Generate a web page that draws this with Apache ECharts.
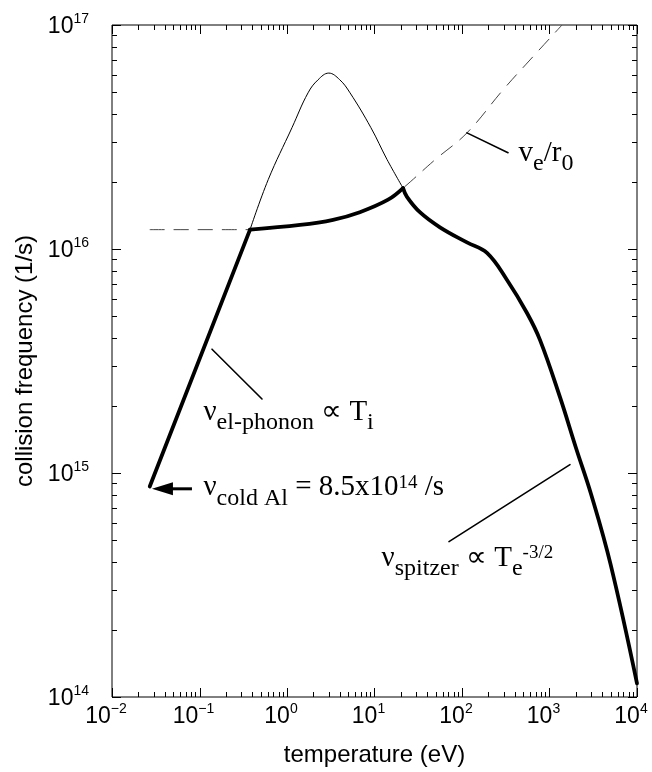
<!DOCTYPE html>
<html><head><meta charset="utf-8">
<script src="https://cdn.jsdelivr.net/npm/echarts@6/dist/echarts.min.js"></script>
<style>html,body{margin:0;padding:0;background:#fff}#c{width:652px;height:772px}</style>
</head><body><div id="c"></div>
<script>
// ---- axis ticks ----
const X_MIN = 0.01, X_MAX = 10000, Y_MIN = 1e14, Y_MAX = 1e17;
const xMajor = [0.01, 0.1, 1, 10, 100, 1000, 10000];
const yMajor = [1e14, 1e15, 1e16, 1e17];
const xMinor = []; for (let e = -2; e < 4; e++) for (let k = 2; k <= 9; k++) xMinor.push(k * Math.pow(10, e));
const yMinor = []; for (let e = 14; e < 17; e++) for (let k = 2; k <= 9; k++) yMinor.push(k * Math.pow(10, e));

// ---- data ----
// thick curve, el-phonon part (∝ T)
const phononT  = [0.027, 0.378];
const phononNu = [8.7e14, 1.22e16];
// thick curve, between knee and cusp (follows v_e/r0)
const plateauT  = [0.378, 1.41, 3.36, 6.8, 14.3, 21.2];
const plateauNu = [1.22e16, 1.28e16, 1.35e16, 1.46e16, 1.66e16, 1.87e16];
// thick curve, spitzer-like tail
const tailT  = [21.2, 23.5, 33, 56, 114, 193, 327, 553, 778, 1318, 2000, 3000, 5000, 10000];
const tailNu = [1.87e16, 1.71e16, 1.46e16, 1.25e16, 1.07e16, 9.6e15, 7.27e15, 5.18e15, 3.93e15, 2.18e15, 1.3e15, 8.0e14, 3.9e14, 1.15e14];
// thin bell curve
const bellT  = [0.378, 0.61, 1.14, 1.74, 2.26, 3.0, 4.0, 5.25, 9.1, 13.9, 21.2];
const bellNu = [1.22e16, 2.04e16, 3.48e16, 4.98e16, 5.69e16, 6.1e16, 5.7e16, 4.98e16, 3.48e16, 2.51e16, 1.87e16];
// dashed v_e / r0
const veT  = [0.027, 0.2, 0.378, 1.41, 3.36, 6.8, 14.3, 21.2, 49, 114, 294, 598, 1390];
const veNu = [1.22e16, 1.22e16, 1.22e16, 1.28e16, 1.35e16, 1.46e16, 1.66e16, 1.87e16, 2.5e16, 3.3e16, 5.13e16, 6.98e16, 1e17];

// annotation anchors (data coordinates)
const annPhonon = [0.1096, 1.845e15];
const annCold = [0.1096, 8.5e14];
const annVe = [437, 2.64e16];
const annSpitzer = [11.9, 4.11e14];
const leadPhononT = [0.139, 0.518], leadPhononNu = [3.57e15, 2.14e15];
const leadVeT = [114, 336], leadVeNu = [3.3e16, 2.69e16];
const leadSpT = [71, 1714], leadSpNu = [4.94e14, 1.09e15];
const arrowTip = [0.0286, 8.5e14], arrowTailT = 0.082;

const zip = (a, b) => a.map((v, i) => [v, b[i]]);
const SERIF = 'Liberation Serif', SANS = 'Liberation Sans';

const richAnn = {
  n:   {fontFamily: SERIF, fontSize: 29, color: '#000', verticalAlign: 'top', lineHeight: 31},
  sub: {fontFamily: SERIF, fontSize: 24, color: '#000', verticalAlign: 'top', lineHeight: 24, padding: [13, 0, 0, 0]},
  sup: {fontFamily: SERIF, fontSize: 19, color: '#000', verticalAlign: 'top', lineHeight: 19}
};
function annot(pos, text) {
  return {type: 'scatter', data: [pos], symbolSize: 1, itemStyle: {color: 'rgba(0,0,0,0)'}, silent: true, z: 10,
    label: {show: true, position: 'right', distance: 0, color: '#000', opacity: 1, formatter: () => text, rich: richAnn}};
}
function lineS(data, width, extra) {
  return Object.assign({type: 'line', data: data, showSymbol: false, symbol: 'none', silent: true,
    lineStyle: {color: '#000', width: width, cap: 'round', join: 'round'}}, extra || {});
}
function tickSeries(axis, vals, len) {
  return {type: 'custom', silent: true, z: 6, clip: false,
    data: vals.map(v => axis === 'x' ? [v, Y_MIN] : [X_MIN, v]),
    renderItem: (p, api) => {
      const st = {stroke: '#000', lineWidth: 1};
      if (axis === 'x') {
        const v = api.value(0);
        const a = api.coord([v, Y_MIN]), b = api.coord([v, Y_MAX]);
        const x = Math.round(a[0]) + 0.5;
        return {type: 'group', children: [
          {type: 'line', shape: {x1: x, y1: a[1], x2: x, y2: a[1] - len}, style: st},
          {type: 'line', shape: {x1: x, y1: b[1], x2: x, y2: b[1] + len}, style: st}]};
      } else {
        const v = api.value(1);
        const a = api.coord([X_MIN, v]), b = api.coord([X_MAX, v]);
        const y = Math.round(a[1]) + 0.5;
        return {type: 'group', children: [
          {type: 'line', shape: {x1: a[0], y1: y, x2: a[0] + len, y2: y}, style: st},
          {type: 'line', shape: {x1: b[0], y1: y, x2: b[0] - len, y2: y}, style: st}]};
      }
    }};
}
const expFmt = v => {
  const e = Math.round(Math.log10(v));
  return '{b|10}{s|' + (e < 0 ? '\u2212' + (-e) : e) + '}';
};
const richTick = {
  b: {fontFamily: SANS, fontSize: 23, color: '#000', verticalAlign: 'top', lineHeight: 25, padding: [3, 0, 0, 0]},
  s: {fontFamily: SANS, fontSize: 14, color: '#000', verticalAlign: 'top', lineHeight: 14}
};

const chart = echarts.init(document.getElementById('c'));
chart.setOption({
  animation: false,
  backgroundColor: '#fff',
  grid: {left: 112, right: 15, top: 25, bottom: 73, show: true, borderColor: '#000', borderWidth: 1, backgroundColor: 'transparent'},
  xAxis: {type: 'log', logBase: 10, min: X_MIN, max: X_MAX, interval: 1,
    name: 'temperature (eV)', nameLocation: 'middle', nameGap: 46,
    nameTextStyle: {fontFamily: SANS, fontSize: 24, color: '#000'},
    axisLine: {show: false}, axisTick: {show: false}, splitLine: {show: false}, minorTick: {show: false},
    axisLabel: {margin: 5, formatter: expFmt, rich: richTick, padding: [0, 12, 0, 0]}},
  yAxis: {type: 'log', logBase: 10, min: Y_MIN, max: Y_MAX, interval: 1,
    name: 'collision frequency (1/s)', nameLocation: 'middle', nameGap: 72, nameRotate: 90,
    nameTextStyle: {fontFamily: SANS, fontSize: 24, color: '#000'},
    axisLine: {show: false}, axisTick: {show: false}, splitLine: {show: false}, minorTick: {show: false},
    axisLabel: {margin: 23, formatter: expFmt, rich: richTick}},
  series: [
    tickSeries('x', xMajor, 9), tickSeries('x', xMinor, 5),
    tickSeries('y', yMajor, 9), tickSeries('y', yMinor, 5),
    lineS(zip(veT, veNu), 1, {smooth: 0.4, lineStyle: {color: '#444', width: 1, type: [15, 9]}}),
    lineS(zip(bellT, bellNu), 1, {smooth: 0.4, z: 3}),
    lineS(zip(phononT, phononNu), 3.8, {z: 4}),
    lineS(zip(plateauT, plateauNu), 3.8, {smooth: 0.4, z: 4}),
    lineS(zip(tailT, tailNu), 3.8, {smooth: 0.4, z: 4}),
    lineS(zip(leadPhononT, leadPhononNu), 1.6),
    lineS(zip(leadVeT, leadVeNu), 1.6),
    lineS(zip(leadSpT, leadSpNu), 1.6),
    {type: 'custom', silent: true, z: 8, clip: false, data: [[arrowTip[0], arrowTip[1], arrowTailT]],
      renderItem: (p, api) => {
        const tip = api.coord([api.value(0), api.value(1)]);
        const tail = api.coord([api.value(2), api.value(1)]);
        const hl = 21, hh = 6.5;
        return {type: 'group', children: [
          {type: 'polygon', shape: {points: [[tip[0], tip[1]], [tip[0] + hl, tip[1] - hh], [tip[0] + hl, tip[1] + hh]]}, style: {fill: '#000'}},
          {type: 'rect', shape: {x: tip[0] + hl - 1, y: tip[1] - 1.5, width: tail[0] - tip[0] - hl + 1, height: 3}, style: {fill: '#000'}}]};
      }},
    annot(annPhonon, '{n|\u03bd}{sub|el-phonon}{n| \u221d T}{sub|i}'),
    annot(annCold, '{n|\u03bd}{sub|cold Al}{n| = 8.5x10}{sup|14}{n| /s}'),
    annot(annSpitzer, '{n|\u03bd}{sub|spitzer}{n| \u221d T}{sub|e}{sup|-3/2}'),
    annot(annVe, '{n|v}{sub|e}{n|/r}{sub|0}')
  ]
});
</script></body></html>
